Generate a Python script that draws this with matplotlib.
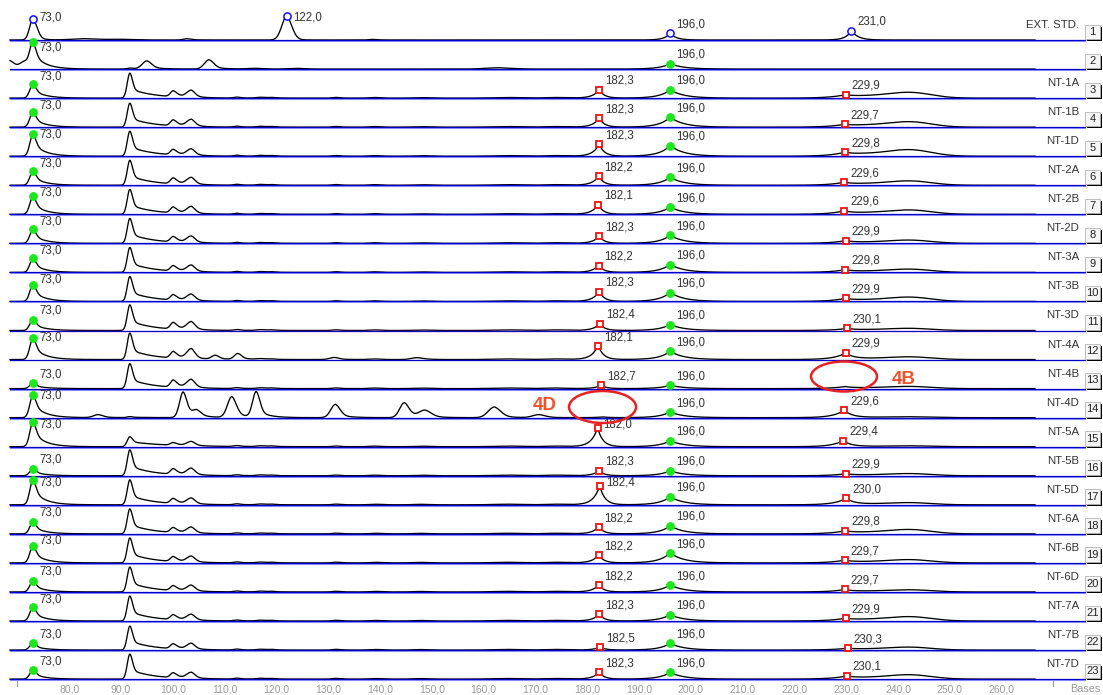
import numpy as np
import matplotlib
matplotlib.use('Agg')
import matplotlib.pyplot as plt
from matplotlib.patches import Ellipse, Rectangle

plt.rcParams['font.family'] = ['Liberation Sans', 'DejaVu Sans']

# lane titles (lane 2 has none)
lane_names = ['EXT. STD.', '', 'NT-1A', 'NT-1B', 'NT-1D', 'NT-2A', 'NT-2B', 'NT-2D',
              'NT-3A', 'NT-3B', 'NT-3D', 'NT-4A', 'NT-4B', 'NT-4D', 'NT-5A', 'NT-5B',
              'NT-5D', 'NT-6A', 'NT-6B', 'NT-6D', 'NT-7A', 'NT-7B', 'NT-7D']

# size standard in lane 1
std_sizes = [73.0, 122.0, 196.0, 231.0]
std_heights = [21.0, 24.0, 6.7, 9.3]

# peak heights per lane (signal units) for the recurring fragments
h_073 = [21, 25, 14, 15, 22, 14, 18, 14, 14, 17, 11, 21.7, 5.5, 22.7, 25, 7, 25, 12, 17, 11, 14, 7, 9]
h_092 = [0, 1, 25, 24, 25, 25, 25, 25, 25, 25, 25.7, 26.5, 25, 1, 10, 26, 25, 25, 25, 25, 25, 24, 25]
h_100 = [0, 0, 6, 6, 5.5, 6, 6, 5.5, 5.5, 5.5, 6.7, 6.7, 7.3, 0, 2.7, 5.7, 5, 5, 5, 5, 5, 5, 5]
h_103 = [0, 0, 7, 7, 6.5, 7, 7, 6.5, 6.5, 6.5, 8, 10, 8.3, 0, 4.3, 6.7, 6, 6, 6, 6, 6, 6, 6]
h_182 = [0, 0, 8.3, 9, 12, 9, 9.7, 7, 7, 10, 6.7, 14.3, 3.3, 0.8, 19, 5, 19, 7, 8, 7, 6.7, 3, 6.7]
h_196 = [0, 5.3, 8.3, 10, 10.7, 8, 7.3, 8, 8, 9, 6, 8.3, 3.3, 5.7, 6, 5, 8, 8, 10, 7, 6.3, 6.7, 6.7]
h_230 = [0, 0, 2, 1.5, 2.5, 2, 2.5, 2, 2, 2, 1.5, 6, 1.5, 7.3, 6, 1.5, 6, 2, 2, 2, 1.7, 1, 2]
h_hump = [0, 0, 5.3, 5, 6, 4, 4, 3, 3, 4, 2, 2.5, 2, 0.8, 0.8, 2, 2, 4, 3, 2, 4, 2.7, 4]

# called sizes (None = not called)
call_182 = [None, None, 182.3, 182.3, 182.3, 182.2, 182.1, 182.3, 182.2, 182.3, 182.4, 182.1,
            182.7, None, 182.0, 182.3, 182.4, 182.2, 182.2, 182.2, 182.3, 182.5, 182.3]
call_230 = [None, None, 229.9, 229.7, 229.8, 229.6, 229.6, 229.9, 229.8, 229.9, 230.1, 229.9,
            None, 229.6, 229.4, 229.9, 230.0, 229.8, 229.7, 229.7, 229.9, 230.3, 230.1]

# lane specific extra peaks: (size, height, width)
lane1_extra = [(83.0, 1.3, 2.5), (90.0, 0.7, 2.5), (102.7, 1.3, 0.7), (138.6, 0.6, 0.7)]
lane2_extra = [(68.3, 9.0, 1.0), (71.4, 7.0, 0.9), (95.0, 8.0, 0.9), (107.0, 9.3, 0.9),
               (116.0, 0.7, 1.5), (124.0, 0.7, 1.5), (163.0, 1.3, 2.5)]
lane12_extra = [(108.2, 4.0, 0.7), (112.6, 5.0, 0.7), (131.0, 1.5, 0.9), (147.0, 1.5, 1.0)]
lane14_extra = [(85.6, 3.0, 0.9), (102.0, 25.7, 0.7), (104.6, 6.0, 0.8), (111.4, 21.0, 0.85),
                (116.1, 25.7, 0.7), (131.4, 13.3, 0.9), (144.7, 15.0, 0.9), (148.7, 7.0, 1.2),
                (162.1, 10.7, 1.2), (170.7, 3.0, 1.2)]
small_bumps = [(112.4, 0.9, 0.6), (117.0, 0.8, 0.8), (119.0, 0.6, 0.6), (131.5, 0.7, 0.7),
               (139.0, 0.6, 1.0), (148.0, 0.5, 1.5), (165.0, 0.6, 3.0), (174.0, 0.6, 2.0)]

tick_values = list(range(80, 261, 10))

PX_PER_BASE = 5.18
LANE_Y0 = 40.0
LANE_STEP = 29.05


def bx(px):
    # pixel column -> size in bases
    return 73.0 + (px - 33.0) / PX_PER_BASE


def tailed(x, c, h, sl, sr, frac, tau):
    d = x - c
    right = (1 - frac) * np.exp(-0.5 * (d / sr) ** 2) + frac * np.exp(-np.clip(d, 0, None) / tau)
    return h * np.where(d < 0, np.exp(-0.5 * (d / sl) ** 2), right)


def cusp(x, c, h, tl, tr):
    d = x - c
    return h * np.where(d < 0, np.exp(np.clip(d, None, 0) / tl), np.exp(-np.clip(d, 0, None) / tr))


def lane_trace(i, x):
    y = np.zeros_like(x)
    if i == 0:
        y += tailed(x, std_sizes[0], std_heights[0], 0.65, 0.8, 0.25, 1.2)
        y += tailed(x, std_sizes[1], std_heights[1], 0.95, 1.0, 0.2, 1.0)
        y += cusp(x, std_sizes[2], std_heights[2], 1.1, 1.2)
        y += cusp(x, std_sizes[3], std_heights[3], 1.1, 1.3)
        extra = lane1_extra
    else:
        y += tailed(x, 73.0, h_073[i], 0.6, 0.6, 0.6, 2.2)
        y += tailed(x, 91.7, h_092[i], 0.5, 0.5, 0.38 if i != 14 else 0.5, 4.5 if i != 14 else 7.0)
        y += tailed(x, 100.1, h_100[i], 0.55, 0.7, 0.5, 1.5)
        y += tailed(x, 103.6, h_103[i], 0.9, 0.7, 0.4, 1.2)
        c182 = call_182[i] if call_182[i] else 183.0
        y += cusp(x, c182, h_182[i], 1.2, 1.0)
        y += cusp(x, 196.0, h_196[i], 2.0, 2.6)
        c230 = call_230[i] if call_230[i] else 229.8
        y += cusp(x, c230, h_230[i], 2.0, 1.5)
        y += h_hump[i] * np.exp(-0.5 * ((x - 242.5) / 4.0) ** 2)
        y += 0.4 * h_hump[i] * np.exp(-0.5 * ((x - 234.0) / 5.0) ** 2)
        extra = {1: lane2_extra, 11: lane12_extra, 13: lane14_extra}.get(i, [])
        if i not in (1, 13):
            extra = extra + small_bumps
    for c, h, w in extra:
        y += tailed(x, c, h, w, w, 0.3, 2.0)
    return y


fig = plt.figure(figsize=(11.03, 6.95), dpi=100)
ax = fig.add_axes([0, 0, 1, 1])
ax.set_xlim(bx(0), bx(1103))
ax.set_ylim(695, 0)
ax.axis('off')

x = np.linspace(bx(10), bx(1035), 3000)
x_end = bx(1085)
label_kw = dict(fontsize=8.3, color='#333333', ha='left', va='center')
dx_label = 6.0 / PX_PER_BASE


def mark(xv, yb, trace, style, text):
    h = np.interp(xv, x, trace)
    if style == 'std':
        ax.plot(xv, yb - h, 'o', ms=5.2, mfc='white', mec='#1010ff', mew=1.1, zorder=5)
    elif style == 'dot':
        ax.plot(xv, yb - h, 'o', ms=5.8, mfc='#1ee61e', mec='#1ee61e', mew=0.5, zorder=5)
    else:
        ax.plot(xv, yb - h, 's', ms=4.6, mfc='white', mec='#ee1111', mew=1.3, zorder=5)
    ax.text(xv + dx_label, yb - min(h + 9.0, 22.0), text, zorder=6, **label_kw)


def fmt(v):
    return f'{v:.1f}'.replace('.', ',')


for i in range(23):
    yb = LANE_Y0 + i * LANE_STEP
    trace = lane_trace(i, x)
    ax.plot(x, yb - trace, color='black', lw=0.95, zorder=2)
    ax.plot([bx(10), x_end], [yb + 0.9, yb + 0.9], color='#9a9aff', lw=0.8, zorder=3)
    ax.plot([bx(10), x_end], [yb, yb], color='#0000cc', lw=0.9, zorder=3)

    if i == 0:
        for s in std_sizes:
            mark(s, yb, trace, 'std', fmt(s))
    else:
        mark(73.0, yb, trace, 'dot', fmt(73.0))
        mark(196.0, yb, trace, 'dot', fmt(196.0))
        if call_182[i]:
            mark(call_182[i], yb, trace, 'sq', fmt(call_182[i]))
        if call_230[i]:
            mark(call_230[i], yb, trace, 'sq', fmt(call_230[i]))

    if lane_names[i]:
        ax.text(bx(1079), yb - 15, lane_names[i], fontsize=8.2, color='#333333',
                ha='right', va='center')

    # lane number button
    bw = 15.0 / PX_PER_BASE
    ax.add_patch(Rectangle((bx(1087), yb - 13.5), bw, 14.5, fc='black', ec='none', zorder=3))
    ax.add_patch(Rectangle((bx(1085), yb - 15.5), bw, 14.5, fc='#f6f6f6', ec='#b4b4b4',
                           lw=0.6, zorder=4))
    ax.text(bx(1085) + bw / 2, yb - 8.2, str(i + 1), fontsize=8, color='#222222',
            ha='center', va='center', zorder=5)

# size axis
for v in tick_values:
    ax.text(v, 689, f'{v},0', fontsize=7.5, color='#9a9a9a', ha='center', va='center')
for v in (70, 270):
    ax.plot([v, v], [680, 685.5], color='#9a9a9a', lw=0.8)
ax.text(bx(1085), 689, 'Bases', fontsize=7.8, color='#9a9a9a', ha='center', va='center')

# missing fragment highlights
ax.add_patch(Ellipse((bx(602.5), 407), 67 / PX_PER_BASE, 32, fill=False,
                     ec='#e62222', lw=1.8, zorder=7))
ax.text(bx(544.5), 405, '4D', fontsize=13.5, fontweight='bold', color='#f0502a',
        ha='center', va='center', zorder=7)
ax.add_patch(Ellipse((bx(844), 376.5), 66 / PX_PER_BASE, 30, fill=False,
                     ec='#e62222', lw=1.8, zorder=7))
ax.text(bx(903.5), 379.5, '4B', fontsize=13.5, fontweight='bold', color='#f0502a',
        ha='center', va='center', zorder=7)

fig.savefig('out.png', dpi=100)
